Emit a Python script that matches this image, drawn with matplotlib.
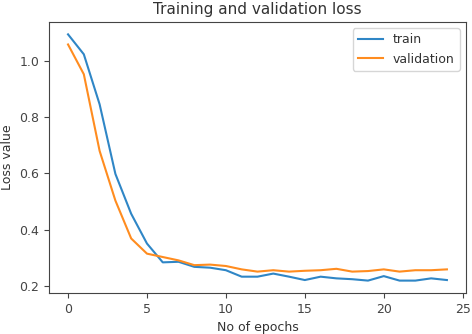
import numpy as np
import matplotlib
matplotlib.use("Agg")
import matplotlib.pyplot as plt

# values
epochs = list(range(25))
train_loss = [1.095, 1.024, 0.846, 0.598, 0.456, 0.350, 0.283, 0.285, 0.267, 0.264,
              0.255, 0.232, 0.232, 0.243, 0.232, 0.220, 0.232, 0.226, 0.223, 0.218,
              0.234, 0.218, 0.218, 0.226, 0.220]
val_loss = [1.059, 0.953, 0.680, 0.503, 0.368, 0.314, 0.302, 0.290, 0.273, 0.275,
            0.270, 0.258, 0.250, 0.255, 0.250, 0.253, 0.255, 0.260, 0.250, 0.252,
            0.258, 0.250, 0.255, 0.255, 0.258]

plt.rcParams['text.color'] = '#333333'
plt.rcParams['axes.labelcolor'] = '#333333'
plt.rcParams['xtick.color'] = '#444444'
plt.rcParams['ytick.color'] = '#444444'
plt.rcParams['axes.edgecolor'] = '#444444'

fig = plt.figure(figsize=(4.72, 3.34), dpi=100)
ax = fig.add_axes([0.104, 0.123, 0.883, 0.811])
ax.plot(epochs, train_loss, label="train", color='#2f86c6')
ax.plot(epochs, val_loss, label="validation", color='#ff8c1f')
ax.set_title("Training and validation loss", fontsize=11)
ax.set_xlabel("No of epochs", fontsize=9)
ax.set_ylabel("Loss value", fontsize=9)
ax.tick_params(labelsize=9)
ax.legend(fontsize=9)
fig.savefig("out.png", dpi=100)
